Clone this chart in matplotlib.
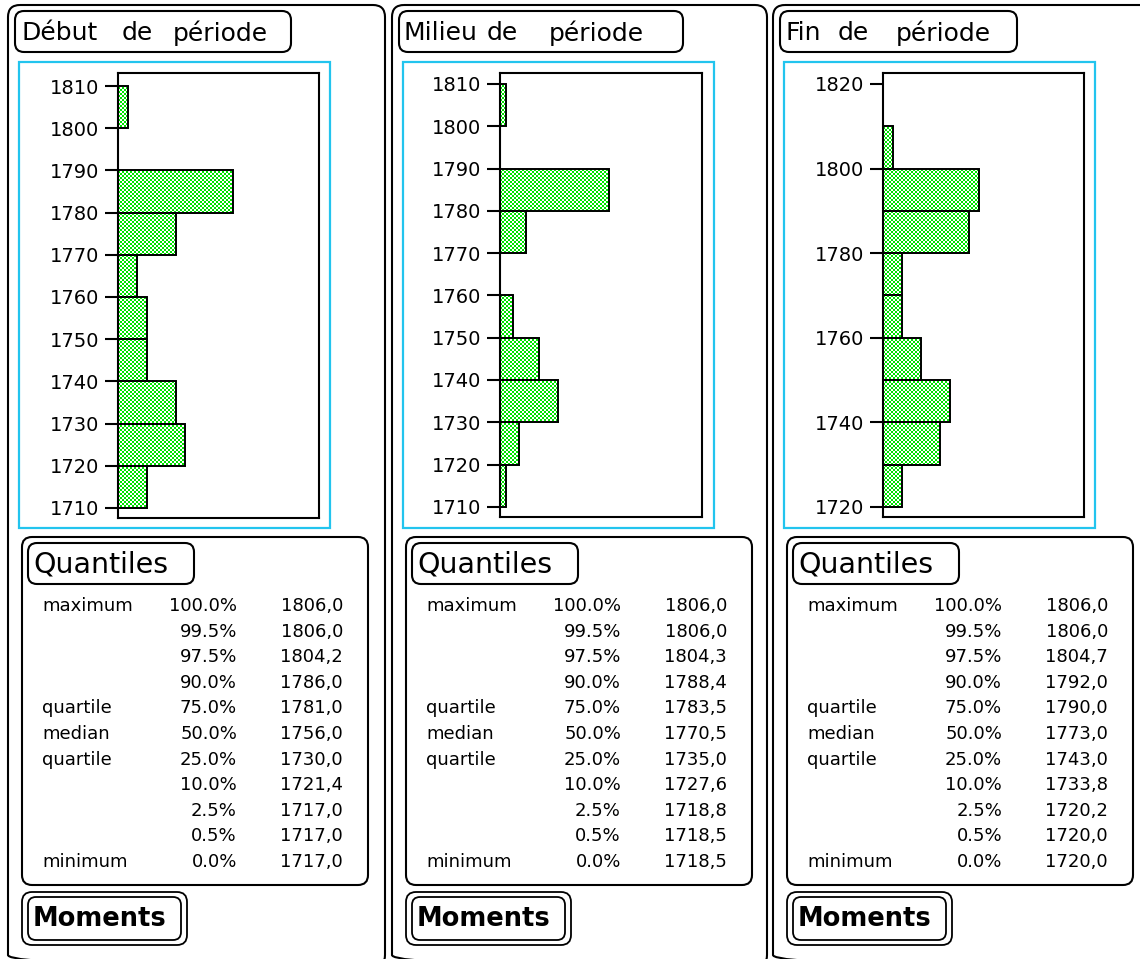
import numpy as np
import matplotlib
matplotlib.use("Agg")
import matplotlib.pyplot as plt
from matplotlib.patches import FancyBboxPatch, Rectangle

# --- data ---
titles = [["Début", "de", "période"], ["Milieu", "de", "période"], ["Fin", "de", "période"]]

bins_start = [1710, 1710, 1720]
bin_width = 10
counts_debut = [3, 7, 6, 3, 3, 2, 6, 12, 0, 1]
counts_milieu = [1, 3, 9, 6, 2, 0, 4, 17, 0, 1]
counts_fin = [2, 6, 7, 4, 2, 2, 9, 10, 1]
all_counts = [counts_debut, counts_milieu, counts_fin]

yticks_debut = [1710, 1720, 1730, 1740, 1750, 1760, 1770, 1780, 1790, 1800, 1810]
yticks_fin = [1720, 1740, 1760, 1780, 1800, 1820]
all_yticks = [yticks_debut, yticks_debut, yticks_fin]

q_labels = ["maximum", "", "", "", "quartile", "median", "quartile", "", "", "", "minimum"]
q_pct = ["100.0%", "99.5%", "97.5%", "90.0%", "75.0%", "50.0%", "25.0%", "10.0%", "2.5%", "0.5%", "0.0%"]
q_debut = ["1806,0", "1806,0", "1804,2", "1786,0", "1781,0", "1756,0", "1730,0", "1721,4", "1717,0", "1717,0", "1717,0"]
q_milieu = ["1806,0", "1806,0", "1804,3", "1788,4", "1783,5", "1770,5", "1735,0", "1727,6", "1718,8", "1718,5", "1718,5"]
q_fin = ["1806,0", "1806,0", "1804,7", "1792,0", "1790,0", "1773,0", "1743,0", "1733,8", "1720,2", "1720,0", "1720,0"]
all_q = [q_debut, q_milieu, q_fin]

# --- layout (pixels) ---
W, H = 1140, 959
panel_x = [8, 392, 773]
panel_w = [377, 375, 400]
title_x = [[22, 122, 173], [404, 487, 549], [786, 838, 896]]
title_box_w = [276, 284, 237]
axes_box = [(118, 73, 201, 445), (500, 73, 202, 444), (883, 73, 201, 444)]
ylims = [(1707.6, 1813.1), (1707.6, 1812.6), (1717.6, 1822.6)]
xmax = [20.9, 31.4, 21.0]
green = np.array([0, 225, 0]) / 255
blue = "#22c4ee"

fig = plt.figure(figsize=(W / 100, H / 100), dpi=100)
bg = fig.add_axes([0, 0, 1, 1])
bg.set_xlim(0, W)
bg.set_ylim(H, 0)
bg.axis("off")
bg.set_zorder(0)


def rbox(x, y, w, h, r=9, lw=1.5, ec="black"):
    bg.add_patch(FancyBboxPatch((x, y), w, h, boxstyle=f"round,pad=0,rounding_size={r}",
                                fc="none", ec=ec, lw=lw))


for i in range(3):
    px = panel_x[i]
    # outer panel
    rbox(px, 5, panel_w[i], 962, r=12, lw=1.5)
    # title
    rbox(px + 7, 11, title_box_w[i], 41, r=9, lw=1.5)
    for word, wx in zip(titles[i], title_x[i]):
        bg.text(wx, 33, word, fontsize=18, va="center", ha="left")
    # blue frame
    bx = px + 11
    bg.add_patch(Rectangle((bx, 62), 311, 466, fc="none", ec=blue, lw=1.6))

    # quantiles box
    qx = px + 14
    rbox(qx, 537, 346, 348, r=10, lw=1.5)
    rbox(qx + 6, 543, 166, 41, r=9, lw=1.5)
    bg.text(qx + 11, 565, "Quantiles", fontsize=20.5, va="center", ha="left")
    for k in range(len(q_pct)):
        ty = 606 + k * 25.6
        bg.text(qx + 20, ty, q_labels[k], fontsize=13, va="center", ha="left")
        bg.text(qx + 215, ty, q_pct[k], fontsize=13, va="center", ha="right")
        bg.text(qx + 321, ty, all_q[i][k], fontsize=13, va="center", ha="right")

    # moments box (double border)
    rbox(qx, 892, 165, 53, r=10, lw=1.3)
    rbox(qx + 6, 897, 153, 43, r=8, lw=1.3)
    bg.text(qx + 11, 919, "Moments", fontsize=18.5, fontweight="bold", va="center", ha="left")

    # histogram
    ax_x, ax_y, ax_w, ax_h = axes_box[i]
    ax = fig.add_axes([ax_x / W, 1 - (ax_y + ax_h) / H, ax_w / W, ax_h / H])
    ax.set_zorder(2)
    ax.patch.set_alpha(0)
    counts = all_counts[i]
    edges = bins_start[i] + bin_width * np.arange(len(counts))
    bars = ax.barh(edges, counts, height=bin_width, align="edge",
                   fc="none", ec="black", lw=1.4, zorder=3)
    y0, y1 = ylims[i]
    ax.set_xlim(0, xmax[i])
    ax.set_ylim(y0, y1)

    # 2px green/white checkerboard, placed pixel for pixel and clipped to each bar
    rows, cols = np.indices((ax_h + 4, ax_w + 4))
    on = ((rows // 2 + cols // 2) % 2).astype(bool)
    tex = np.ones((ax_h + 4, ax_w + 4, 3))
    tex[on] = green
    for b, c in zip(bars, counts):
        if c == 0:
            continue
        im = fig.figimage(tex, xo=ax_x - 2, yo=H - (ax_y + ax_h) - 2, origin="upper",
                          zorder=1, interpolation="nearest")
        im.set_clip_path(b)

    ax.set_yticks(all_yticks[i])
    ax.set_xticks([])
    ax.tick_params(axis="y", direction="out", length=9.5, width=1.5, labelsize=14, pad=4)
    for s in ax.spines.values():
        s.set_linewidth(1.5)

fig.savefig("out.png", dpi=100)
